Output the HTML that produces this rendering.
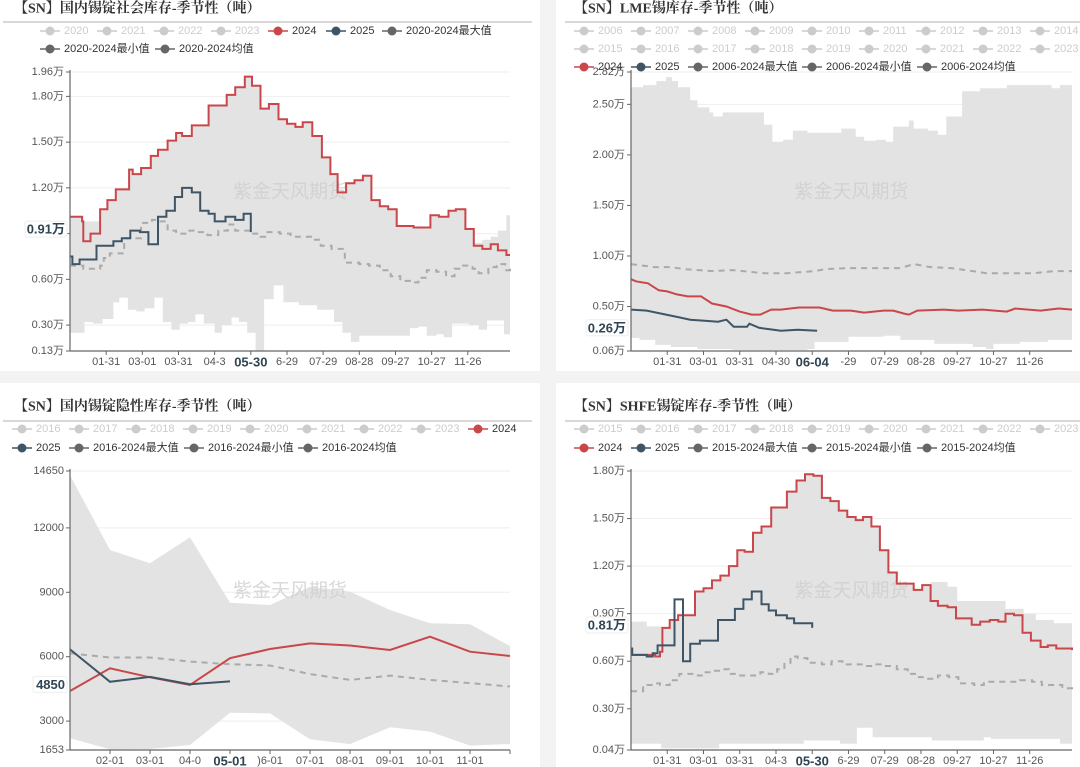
<!DOCTYPE html>
<html><head><meta charset="utf-8"><style>
html,body{margin:0;padding:0;background:#f3f3f3;}
svg{display:block;font-family:"Liberation Sans","Noto Sans CJK SC",sans-serif;}
</style></head><body>
<svg id="chart" width="1080" height="767" viewBox="0 0 1080 767">
<rect x="0" y="0" width="540" height="371" fill="#fff"/>
<rect x="556" y="0" width="524" height="371" fill="#fff"/>
<rect x="0" y="383" width="540" height="384" fill="#fff"/>
<rect x="556" y="383" width="524" height="384" fill="#fff"/>
</svg>
<script>
// ---------- Panel 1: 国内锡锭社会库存 (万吨), x = day of year ----------
const p1Days2024=[0,10,11,17,25,31,38,49,52,59,67,73,81,88,93,101,115,130,137,145,151,158,165,173,180,187,193,201,209,216,222,229,236,243,250,257,264,271,285,292,299,306,314,320,328,335,342,349,355,362,365];
const p1Vals2024=[1.01,0.98,0.85,0.90,1.06,1.12,1.19,1.32,1.29,1.33,1.41,1.45,1.51,1.56,1.54,1.61,1.74,1.81,1.86,1.93,1.87,1.72,1.75,1.65,1.62,1.60,1.63,1.54,1.40,1.29,1.17,1.23,1.25,1.28,1.12,1.08,1.06,0.95,0.94,0.94,1.02,1.01,1.05,1.06,0.93,0.82,0.80,0.83,0.79,0.76,0.76];
const p1Days2025=[0,2,8,22,36,43,50,58,65,73,80,87,93,101,108,115,120,129,137,144,150];
const p1Vals2025=[0.75,0.70,0.73,0.82,0.85,0.87,0.92,0.91,0.83,1.01,1.05,1.14,1.20,1.17,1.05,1.03,0.98,1.01,0.99,1.03,0.91];
const p1MaxDays=[0,10,11,17,25,31,38,49,52,59,67,73,81,88,93,101,115,130,137,145,151,158,165,173,180,187,193,201,209,216,222,229,236,243,250,257,264,271,285,292,299,306,314,320,328,335,342,349,355,362,365];
const p1MaxVals=[1.01,1.01,0.98,0.98,1.06,1.12,1.19,1.32,1.29,1.33,1.41,1.45,1.51,1.56,1.54,1.61,1.74,1.81,1.86,1.93,1.87,1.72,1.75,1.65,1.62,1.60,1.63,1.54,1.40,1.29,1.17,1.23,1.25,1.28,1.12,1.08,1.06,0.95,0.94,0.94,1.02,1.01,1.05,1.06,0.93,0.84,0.86,0.88,0.92,1.02,1.02];
const p1MinDays=[0,12,19,27,36,41,48,55,62,70,77,84,91,98,104,111,120,126,134,140,147,154,161,169,177,190,205,219,226,233,240,255,282,289,296,304,310,317,331,339,346,352,360,365];
const p1MinVals=[0.25,0.32,0.31,0.34,0.45,0.48,0.40,0.39,0.41,0.48,0.32,0.27,0.31,0.32,0.37,0.31,0.25,0.30,0.35,0.32,0.25,0.13,0.47,0.56,0.45,0.43,0.40,0.32,0.25,0.19,0.23,0.23,0.28,0.29,0.23,0.24,0.22,0.31,0.30,0.27,0.33,0.33,0.24,0.24];
const p1AvgDays=[0,11,25,28,33,45,59,68,75,81,88,98,106,114,123,131,137,144,150,158,163,174,183,194,201,208,217,228,240,248,257,266,274,282,289,296,304,312,319,326,334,339,347,354,361,365];
const p1AvgVals=[0.69,0.67,0.69,0.74,0.77,0.87,0.97,0.99,0.98,0.92,0.90,0.92,0.91,0.89,0.92,0.96,0.92,0.92,0.90,0.88,0.91,0.90,0.88,0.88,0.86,0.82,0.80,0.71,0.70,0.69,0.66,0.62,0.59,0.58,0.61,0.66,0.65,0.62,0.67,0.69,0.67,0.64,0.68,0.70,0.66,0.68];
const p1YTicks=[1.96,1.80,1.50,1.20,0.90,0.60,0.30,0.13];
const p1YLabels=["1.96万","1.80万","1.50万","1.20万","","0.60万","0.30万","0.13万"];
const p1Badge="0.91万";

// ---------- Panel 2: LME (万吨) ----------
const p2Days2024=[0,4,14,23,30,38,47,58,67,79,90,100,107,116,124,139,156,167,182,193,209,217,226,230,237,259,271,291,311,318,339,354,365];
const p2Vals2024=[0.77,0.75,0.73,0.66,0.65,0.62,0.60,0.60,0.53,0.50,0.45,0.42,0.42,0.47,0.47,0.49,0.49,0.46,0.46,0.44,0.46,0.46,0.43,0.42,0.46,0.47,0.46,0.47,0.45,0.48,0.46,0.48,0.47];
const p2Days2025=[0,13,25,41,49,61,72,79,85,96,98,106,118,124,138,154];
const p2Vals2025=[0.47,0.46,0.43,0.39,0.37,0.36,0.35,0.37,0.30,0.30,0.33,0.29,0.27,0.26,0.27,0.26];
const p2MaxDays=[0,10,21,29,34,39,49,55,65,68,76,84,106,110,117,126,134,146,160,174,186,193,203,211,217,230,234,246,254,261,274,289,311,334,348,355,365];
const p2MaxVals=[2.67,2.69,2.73,2.77,2.73,2.67,2.54,2.47,2.42,2.38,2.42,2.42,2.42,2.30,2.13,2.15,2.24,2.22,2.22,2.26,2.18,2.14,2.15,2.13,2.28,2.34,2.26,2.24,2.20,2.38,2.63,2.66,2.69,2.69,2.66,2.69,2.69];
const p2MinDays=[0,7,20,33,55,84,112,146,152,180,209,223,251,283,294,300,322,345,365];
const p2MinVals=[0.19,0.17,0.12,0.10,0.08,0.07,0.07,0.08,0.15,0.20,0.21,0.17,0.13,0.10,0.08,0.13,0.15,0.17,0.17];
const p2AvgDays=[0,19,33,44,67,84,110,129,152,161,180,209,223,234,248,265,283,294,311,334,350,365];
const p2AvgVals=[0.92,0.89,0.89,0.87,0.85,0.86,0.83,0.83,0.85,0.87,0.88,0.88,0.88,0.92,0.89,0.88,0.85,0.83,0.83,0.83,0.85,0.85];
const p2YTicks=[2.82,2.50,2.00,1.50,1.00,0.50,0.06];
const p2YLabels=["2.82万","2.50万","2.00万","1.50万","1.00万","0.50万","0.06万"];
const p2Badge="0.26万";

// ---------- Panel 3: 隐性库存 (吨), monthly ----------
const p3Months=["01-01","02-01","03-01","04-01","05-01","06-01","07-01","08-01","09-01","10-01","11-01","12-01"];
const p3Max=[14460,10970,10350,11560,8515,8410,9260,9030,8175,7555,7510,6500];
const p3Min=[2197,1686,1700,1886,3390,3360,2150,1930,2710,2510,1860,1935];
const p3Avg=[6160,5960,5960,5770,5650,5590,5190,4920,5120,4920,4770,4610];
const p3V2024=[4400,5460,5040,4680,5930,6360,6620,6520,6310,6930,6230,6030];
const p3V2025=[6340,4830,5060,4720,4850];
const p3YTicks=[14650,12000,9000,6000,3000,1653];
const p3YLabels=["14650","12000","9000","6000","3000","1653"];
const p3XLabels=["","02-01","03-01","04-0","05-01",")6-01","07-01","08-01","09-01","10-01","11-01",""];
const p3Badge="4850";

// ---------- Panel 4: SHFE (万吨) ----------
const p4Days2024=[0,20,24,26,32,39,53,60,67,74,81,88,94,101,108,116,129,137,144,151,158,165,172,179,186,192,199,206,213,220,234,241,248,254,262,269,282,289,297,304,310,317,324,331,339,345,352,365];
const p4Vals2024=[0.64,0.63,0.66,0.81,0.86,0.89,1.04,1.06,1.11,1.14,1.20,1.30,1.29,1.41,1.45,1.57,1.67,1.74,1.78,1.77,1.63,1.61,1.55,1.51,1.49,1.51,1.45,1.30,1.16,1.09,1.05,1.08,0.98,0.95,0.94,0.87,0.83,0.85,0.86,0.85,0.90,0.89,0.78,0.73,0.69,0.70,0.68,0.67];
const p4Days2025=[0,1,13,18,22,36,43,49,57,72,86,93,100,108,114,120,129,135,150];
const p4Vals2025=[0.68,0.64,0.63,0.65,0.70,0.99,0.60,0.71,0.73,0.86,0.93,0.99,1.04,0.96,0.92,0.89,0.87,0.84,0.81];
const p4MaxDays=[0,13,26,32,39,53,60,67,74,81,88,94,101,108,116,129,137,144,151,158,165,172,179,186,192,199,206,213,220,234,241,248,262,270,310,325,335,350,365];
const p4MaxVals=[0.85,0.82,0.81,0.86,0.89,1.04,1.06,1.11,1.14,1.20,1.30,1.29,1.41,1.45,1.57,1.67,1.74,1.78,1.77,1.63,1.61,1.55,1.51,1.49,1.51,1.45,1.30,1.16,1.09,1.05,1.08,1.10,1.07,0.98,0.93,0.90,0.86,0.84,0.83];
const p4MinDays=[0,25,73,143,173,187,200,249,292,298,355,365];
const p4MinVals=[0.08,0.05,0.08,0.10,0.08,0.18,0.12,0.10,0.12,0.11,0.08,0.08];
const p4AvgDays=[0,10,18,24,32,40,52,60,67,74,81,87,95,107,114,121,127,132,138,146,152,158,166,175,183,192,202,209,220,229,237,246,254,263,271,284,292,303,315,322,332,340,349,357,365];
const p4AvgVals=[0.41,0.45,0.46,0.45,0.48,0.52,0.51,0.53,0.54,0.55,0.52,0.51,0.51,0.53,0.52,0.55,0.59,0.63,0.62,0.59,0.59,0.58,0.60,0.58,0.58,0.57,0.58,0.57,0.55,0.52,0.50,0.49,0.51,0.50,0.46,0.45,0.47,0.47,0.47,0.48,0.47,0.45,0.45,0.43,0.44];
const p4YTicks=[1.80,1.50,1.20,0.90,0.60,0.30,0.04];
const p4YLabels=["1.80万","1.50万","1.20万","0.90万","0.60万","0.30万","0.04万"];
const p4Badge="0.81万";

const dailyTickDays=[30,60,90,120,150,180,210,240,270,300,330];

const NS='http://www.w3.org/2000/svg';
const svg=document.getElementById('chart');
const RED='#c9474a', BLUE='#3f5566', BAND='#e3e3e3', AVG='#aaaaaa';
function mk(tag,attrs,name,parent,inter){
  const el=document.createElementNS(NS,tag);
  for(const k in attrs) el.setAttribute(k,attrs[k]);
  
  
  (parent||svg).appendChild(el);
  return el;
}
function txt(x,y,s,attrs,name,parent,inter){
  const a=Object.assign({x:x,y:y,'dominant-baseline':'central'},attrs||{});
  const t=mk('text',a,name,parent,inter);
  t.textContent=s;
  return t;
}
function linScale(d0,d1,r0,r1){return v=>r0+(v-d0)/(d1-d0)*(r1-r0);}
function stepPts(days,vals,sx,sy){
  const pts=[];
  for(let i=0;i<days.length;i++){
    const x=sx(days[i]),y=sy(vals[i]);
    if(i>0) pts.push([x,pts[pts.length-1][1]]);
    pts.push([x,y]);
  }
  return pts;
}
function linePts(xs,vals,sx,sy){return vals.map((v,i)=>[sx(xs[i]),sy(v)]);}
function toD(pts){return pts.map((p,i)=>(i?'L':'M')+p[0].toFixed(1)+' '+p[1].toFixed(1)).join(' ');}

function frame(cfg){
  const g=mk('g',{},cfg.name);
  txt(cfg.titleX,cfg.titleY,cfg.title,{'font-size':14,'font-weight':'bold','fill':'#333','font-family':'"Liberation Serif","Noto Serif CJK SC",serif'},'chart-title',g);
  mk('line',{x1:cfg.divX0,x2:cfg.divX1,y1:cfg.divY,y2:cfg.divY,stroke:'#ccc','stroke-width':1.5},'title-divider',g);
  // legend
  cfg.legend.forEach(it=>{
    const lg=mk('g',{},'legend-entry',g,true);
    const c=it.c;
    mk('line',{x1:it.x-24,x2:it.x-4,y1:it.y,y2:it.y,stroke:c,'stroke-width':1.5},'legend-line',lg);
    mk('circle',{cx:it.x-14,cy:it.y,r:4.5,fill:c},'legend-marker',lg);
    txt(it.x,it.y,it.t,{'font-size':11,fill:it.tc},'legend-label',lg);
  });
  // grid + y labels
  cfg.yTicks.forEach((v,i)=>{
    const y=cfg.sy(v);
    mk('line',{x1:cfg.x0,x2:cfg.x1,y1:y,y2:y,stroke:'#eeeeee','stroke-width':1},'grid-line',g);
    mk('line',{x1:cfg.x0-4,x2:cfg.x0,y1:y,y2:y,stroke:'#666'},'y-tick',g);
    if(cfg.yLabels[i]) txt(cfg.x0-6,y,cfg.yLabels[i],{'font-size':11,fill:'#555','text-anchor':'end'},'y-tick-label',g);
  });
  return g;
}
function axes(cfg,g,ticks){
  mk('line',{x1:cfg.x0,x2:cfg.x0,y1:cfg.y0-2,y2:cfg.y1,stroke:'#666','stroke-width':1.2},'y-axis',g);
  mk('line',{x1:cfg.x0,x2:cfg.x1,y1:cfg.y1,y2:cfg.y1,stroke:'#666','stroke-width':1.2},'x-axis',g);
  ticks.forEach(t=>{
    mk('line',{x1:t.x,x2:t.x,y1:cfg.y1,y2:cfg.y1+4,stroke:'#666'},'x-tick',g);
    if(t.l) txt(t.x,cfg.y1+11,t.l,t.b?{'font-size':13,'font-weight':'bold',fill:'#2f4554','text-anchor':'middle'}:{'font-size':11,fill:'#555','text-anchor':'middle'},'x-tick-label',g);
  });
}
function badge(g,x,y,s){
  const w=s.length*8+2;
  mk('rect',{x:x-w,y:y-8,width:w,height:16,fill:'#fff',stroke:'#eee',rx:2},'last-value-badge-bg',g);
  txt(x-2,y,s,{'font-size':13,'font-weight':'bold',fill:'#2f4554','text-anchor':'end'},'last-value-badge',g);
}
function watermark(g,x,y){
  txt(x,y,'紫金天风期货',{'font-size':19,fill:'#cfcfcf','text-anchor':'middle','opacity':0.8},'watermark',g);
}
function legendSet(x0s,rows,items){ // items: [label,color,row,idx]
  return items.map(it=>({t:it[0],c:it[1],tc:it[1]==='#ccc'?'#ccc':'#333',x:x0s[it[3]],y:rows[it[2]]}));
}
const G='#ccc', D='#666';
const leftX=[64,121,178,235,292,350,406];
const rightX=[598,655,712,769,826,883,940,997,1054];
const p3X=[36,93,150,207,264,321,378,435,492];
const wide2=[598,655,712,826,941];
const wide3=[36,93,208,322];

function dailyPanel(o){
  const sx=linScale(0,365,o.x0,o.x1), sy=linScale(o.vmin,o.vmax,o.y1,o.y0);
  const cfg=Object.assign({sx:sx,sy:sy},o);
  const g=frame(cfg);
  const up=stepPts(o.maxD,o.maxV,sx,sy), lo=stepPts(o.minD,o.minV,sx,sy).reverse();
  mk('path',{d:toD(up.concat(lo))+' Z',fill:BAND,stroke:'none'},'min-max-band',g);
  watermark(g,(o.x0+o.x1)/2,o.y0+(o.y1-o.y0)*0.43);
  const sf=o.step?stepPts:(d,v,a,b)=>linePts(d,v,a,b);
  mk('path',{d:toD(sf(o.avgD,o.avgV,sx,sy)),fill:'none',stroke:AVG,'stroke-width':2,'stroke-dasharray':'6 5'},'average-line',g);
  mk('path',{d:toD(sf(o.d24,o.v24,sx,sy)),fill:'none',stroke:RED,'stroke-width':2},'line-2024',g);
  mk('path',{d:toD(sf(o.d25,o.v25,sx,sy)),fill:'none',stroke:BLUE,'stroke-width':2},'line-2025',g);
  axes(cfg,g,dailyTickDays.map((d,i)=>({x:sx(d),l:o.xl[i],b:o.bold===i})));
  badge(g,o.x0-3,sy(o.v25[o.v25.length-1])-3,o.badge);
}

dailyPanel({name:'social-inventory-chart',title:'【SN】国内锡锭社会库存-季节性（吨）',titleX:14,titleY:9,divX0:3,divX1:532,divY:22,
  legend:legendSet(leftX,[31,49],[['2020',G,0,0],['2021',G,0,1],['2022',G,0,2],['2023',G,0,3],['2024',RED,0,4],['2025',BLUE,0,5],['2020-2024最大值',D,0,6]]).concat(legendSet([64,179],[31,49],[['2020-2024最小值',D,1,0],['2020-2024均值',D,1,1]])),
  x0:70,x1:510,y0:72,y1:351,vmin:0.13,vmax:1.96,yTicks:p1YTicks,yLabels:p1YLabels,step:true,
  maxD:p1MaxDays,maxV:p1MaxVals,minD:p1MinDays,minV:p1MinVals,avgD:p1AvgDays,avgV:p1AvgVals,d24:p1Days2024,v24:p1Vals2024,d25:p1Days2025,v25:p1Vals2025,
  xl:['01-31','03-01','03-31','04-3','05-30','6-29','07-29','08-28','09-27','10-27','11-26'],bold:4,badge:p1Badge});

dailyPanel({name:'lme-inventory-chart',title:'【SN】LME锡库存-季节性（吨）',titleX:574,titleY:9,divX0:565,divX1:1080,divY:22,
  legend:legendSet(rightX,[31,49,67],[['2006',G,0,0],['2007',G,0,1],['2008',G,0,2],['2009',G,0,3],['2010',G,0,4],['2011',G,0,5],['2012',G,0,6],['2013',G,0,7],['2014',G,0,8],
    ['2015',G,1,0],['2016',G,1,1],['2017',G,1,2],['2018',G,1,3],['2019',G,1,4],['2020',G,1,5],['2021',G,1,6],['2022',G,1,7],['2023',G,1,8]]).concat(legendSet(wide2,[31,49,67],[['2024',RED,2,0],['2025',BLUE,2,1],['2006-2024最大值',D,2,2],['2006-2024最小值',D,2,3],['2006-2024均值',D,2,4]])),
  x0:631,x1:1072,y0:72,y1:351,vmin:0.06,vmax:2.82,yTicks:p2YTicks,yLabels:p2YLabels,step:false,
  maxD:p2MaxDays,maxV:p2MaxVals,minD:p2MinDays,minV:p2MinVals,avgD:p2AvgDays,avgV:p2AvgVals,d24:p2Days2024,v24:p2Vals2024,d25:p2Days2025,v25:p2Vals2025,
  xl:['01-31','03-01','03-31','04-30','06-04','-29','07-29','08-28','09-27','10-27','11-26'],bold:4,badge:p2Badge});

dailyPanel({name:'shfe-inventory-chart',title:'【SN】SHFE锡锭库存-季节性（吨）',titleX:574,titleY:407,divX0:565,divX1:1080,divY:421,
  legend:legendSet(rightX,[429,448],[['2015',G,0,0],['2016',G,0,1],['2017',G,0,2],['2018',G,0,3],['2019',G,0,4],['2020',G,0,5],['2021',G,0,6],['2022',G,0,7],['2023',G,0,8]]).concat(legendSet(wide2,[429,448],[['2024',RED,1,0],['2025',BLUE,1,1],['2015-2024最大值',D,1,2],['2015-2024最小值',D,1,3],['2015-2024均值',D,1,4]])),
  x0:631,x1:1072,y0:471,y1:750,vmin:0.04,vmax:1.80,yTicks:p4YTicks,yLabels:p4YLabels,step:true,
  maxD:p4MaxDays,maxV:p4MaxVals,minD:p4MinDays,minV:p4MinVals,avgD:p4AvgDays,avgV:p4AvgVals,d24:p4Days2024,v24:p4Vals2024,d25:p4Days2025,v25:p4Vals2025,
  xl:['01-31','03-01','03-31','04-3','05-30','6-29','07-29','08-28','09-27','10-27','11-26'],bold:4,badge:p4Badge});

// Panel 3 monthly
(function(){
  const x0=70,x1=510,y0=471,y1=750;
  const sx=linScale(0,p3Months.length-1,x0,x1), sy=linScale(1653,14650,y1,y0);
  const idx=p3Months.map((m,i)=>i);
  const cfg={name:'hidden-inventory-chart',title:'【SN】国内锡锭隐性库存-季节性（吨）',titleX:14,titleY:407,divX0:3,divX1:532,divY:421,
    legend:legendSet(p3X,[429,448],[['2016',G,0,0],['2017',G,0,1],['2018',G,0,2],['2019',G,0,3],['2020',G,0,4],['2021',G,0,5],['2022',G,0,6],['2023',G,0,7],['2024',RED,0,8]]).concat(legendSet(wide3,[429,448],[['2025',BLUE,1,0],['2016-2024最大值',D,1,1],['2016-2024最小值',D,1,2],['2016-2024均值',D,1,3]])),
    x0:x0,x1:x1,y0:y0,y1:y1,sx:sx,sy:sy,yTicks:p3YTicks,yLabels:p3YLabels};
  const g=frame(cfg);
  const up=linePts(idx,p3Max,sx,sy), lo=linePts(idx,p3Min,sx,sy).reverse();
  mk('path',{d:toD(up.concat(lo))+' Z',fill:BAND},'min-max-band',g);
  watermark(g,(x0+x1)/2,y0+(y1-y0)*0.43);
  mk('path',{d:toD(linePts(idx,p3Avg,sx,sy)),fill:'none',stroke:AVG,'stroke-width':2,'stroke-dasharray':'6 5'},'average-line',g);
  mk('path',{d:toD(linePts(idx,p3V2024,sx,sy)),fill:'none',stroke:RED,'stroke-width':2},'line-2024',g);
  mk('path',{d:toD(linePts(idx.slice(0,p3V2025.length),p3V2025,sx,sy)),fill:'none',stroke:BLUE,'stroke-width':2},'line-2025',g);
  axes(cfg,g,idx.slice(1).map(i=>({x:sx(i),l:p3XLabels[i],b:i===4})));
  badge(g,x0-3,sy(p3V2025[p3V2025.length-1])+3,p3Badge);
})();
</script>
</body></html>
